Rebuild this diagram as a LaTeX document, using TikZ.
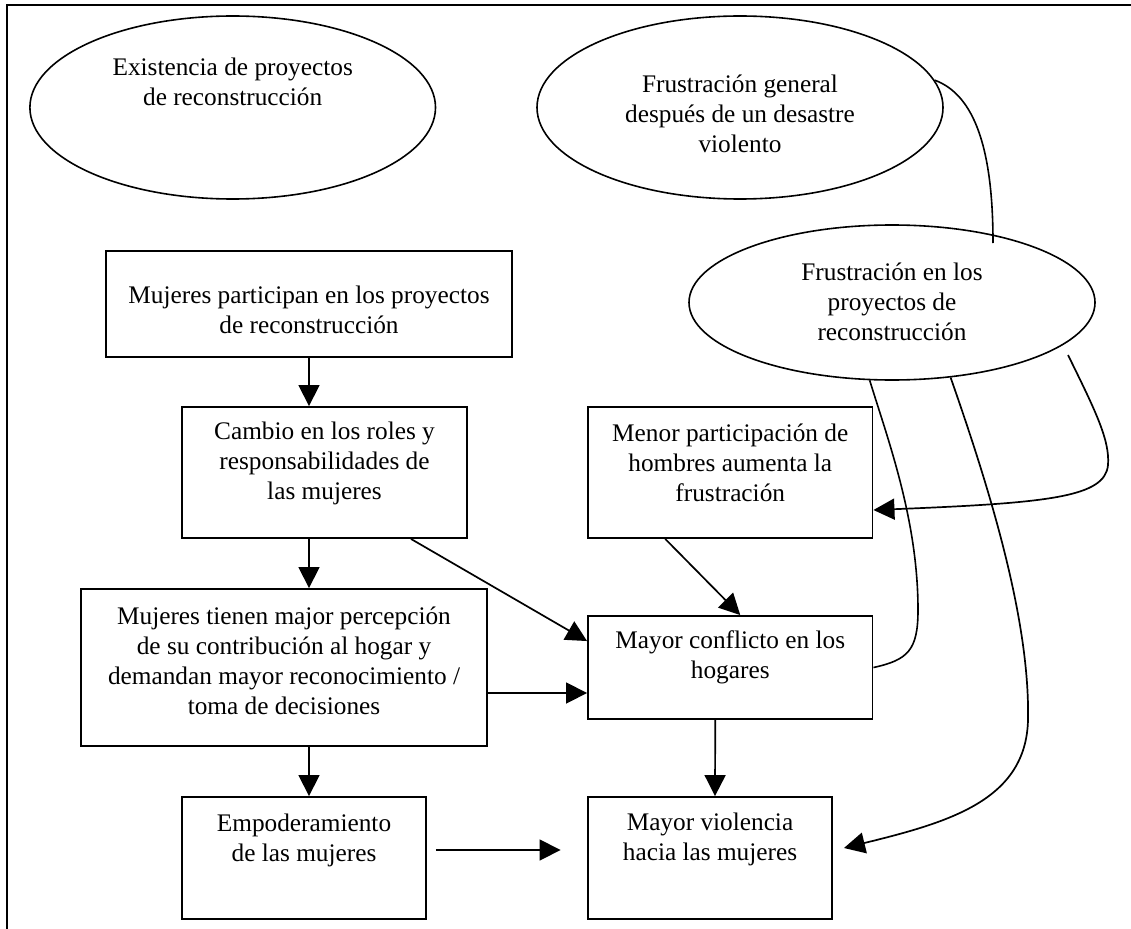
\documentclass[tikz,border=0pt]{standalone}
\usepackage{fontspec}
\setmainfont{Liberation Serif}
\usetikzlibrary{shapes.geometric,arrows.meta,calc}
\begin{document}
\begin{tikzpicture}[x=1pt,y=-1pt,
  box/.style={draw,line width=1.9pt,inner sep=0pt,rectangle},
  oval/.style={draw,line width=1.6pt,ellipse,inner sep=0pt},
  txt/.style={align=center,inner sep=0pt,font=\fontsize{25.3}{30}\selectfont},
  arr/.style={line width=1.7pt,-{Triangle[length=21pt,width=21pt]}},
  link/.style={line width=1.6pt}]
\useasboundingbox (0,0) rectangle (1131,928);
\draw[line width=1.9pt] (7,940) -- (7,5) -- (1140,5);
% ellipses
\node[oval,minimum width=405.6pt,minimum height=183pt] (e1) at (232.7,107.5) {};
\node[oval,minimum width=406pt,minimum height=183pt] (e2) at (740,107.5) {};
\node[oval,minimum width=406pt,minimum height=155pt] (e3) at (892,302.5) {};
\node[txt] (t1) at (232.7,81.5) {Existencia de proyectos\\de reconstrucción};
\node[txt] (t2) at (740,114) {Frustración general\\después de un desastre\\violento};
\node[txt] (t3) at (892,302) {Frustración en los\\proyectos de\\reconstrucción};
% boxes
\node[box,minimum width=406pt,minimum height=106pt] (mp) at (309,304) {};
\node[box,minimum width=285pt,minimum height=131pt] (cambio) at (324.5,472.5) {};
\node[box,minimum width=406pt,minimum height=157pt] (tienen) at (284,667.5) {};
\node[box,minimum width=244pt,minimum height=122pt] (empod) at (304,858) {};
\node[box,minimum width=284.5pt,minimum height=131pt] (menor) at (730.25,472.5) {};
\node[box,minimum width=284.5pt,minimum height=103pt] (conf) at (730.25,667.5) {};
\node[box,minimum width=244pt,minimum height=122pt] (viol) at (710,858) {};
\node[txt] (tmp) at (309,310) {Mujeres participan en los proyectos\\de reconstrucción};
\node[txt] (tcambio) at (324.5,463.5) {Cambio en los roles y\\responsabilidades de\\las mujeres};
\node[txt] (ttienen) at (284,660.5) {Mujeres tienen major percepción\\de su contribución al hogar y\\demandan mayor reconocimiento /\\toma de decisiones};
\node[txt] (tempod) at (304,840) {Empoderamiento\\de las mujeres};
\node[txt] (tmenor) at (730.25,462.5) {Menor participación de\\hombres aumenta la\\frustración};
\node[txt] (tconf) at (730.25,657) {Mayor conflicto en los\\hogares};
\node[txt] (tviol) at (710,839.5) {Mayor violencia\\hacia las mujeres};
% straight arrows
\draw[arr] (mp.south) -- (mp.south |- cambio.north);
\draw[arr] (mp.south |- cambio.south) -- (mp.south |- tienen.north);
\draw[arr] (mp.south |- tienen.south) -- (mp.south |- empod.north);
\draw[arr] ([xshift=86.5pt]cambio.south) -- ([yshift=-26pt]conf.north west);
\draw[arr] ([yshift=-25.5pt]tienen.east) -- ([yshift=-25.5pt]conf.west);
\draw[arr] ([xshift=9pt,yshift=8pt]empod.east) -- ([xshift=-26.5pt,yshift=8pt]viol.west);
\draw[arr] ([xshift=-65pt]menor.south) -- ([xshift=10pt]conf.north);
\draw[arr] ([xshift=-15pt]conf.south) -- ([xshift=5pt]viol.north);
% curves
\draw[link] (e2.8) .. controls (975,95) and (993,150) .. ([xshift=101pt,yshift=59.5pt]e3.center);
\draw[link] (conf.east) .. controls (908,660) and (918,650) .. (918,610)
  .. controls (918,520) and (888,440) .. (e3.254);
\draw[arr] (e3.308) .. controls (990,490) and (1030,620) .. (1028,720)
  .. controls (1026,800) and (950,822) .. ([xshift=11pt,yshift=10pt]viol.east);
\draw[arr] ([xshift=176pt,yshift=-52.5pt]e3.center) .. controls (1095,410) and (1110,440) .. (1108,465)
  .. controls (1105,497) and (1050,503) .. ([yshift=-37.5pt]menor.east);
\end{tikzpicture}
\end{document}
